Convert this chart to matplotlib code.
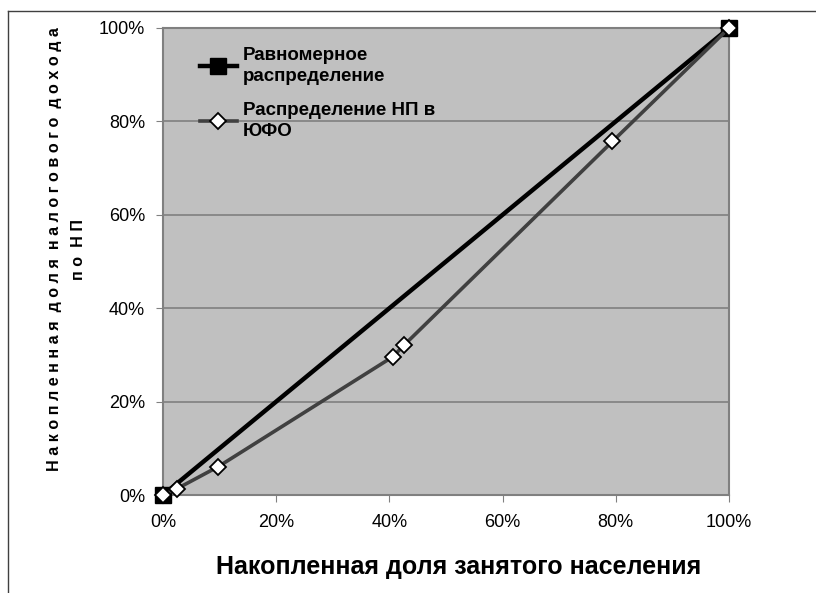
import matplotlib
matplotlib.use("Agg")
import matplotlib.pyplot as plt
from matplotlib.lines import Line2D
from matplotlib.ticker import PercentFormatter, MultipleLocator

# Data
uniform_x = [0, 100]
uniform_y = [0, 100]
dist_x = [0, 2.4, 9.8, 40.6, 42.6, 79.4, 100]
dist_y = [0, 1.3, 6.1, 29.6, 32.1, 75.7, 100]
series_names = ["Равномерное\nраспределение", "Распределение НП в\nЮФО"]
xlabel = "Накопленная доля занятого населения"
ylabel_lines = ["Накопленная доля налогового дохода", "по НП"]

plt.rcParams['font.family'] = ['Liberation Sans', 'DejaVu Sans']

fig = plt.figure(figsize=(8.16, 5.93), dpi=100)
ax = fig.add_axes([163/816, 1-495/593, (729-163)/816, (495-28)/593])
ax.set_facecolor('#c0c0c0')

ax.plot(uniform_x, uniform_y, color='black', lw=3.2, marker='s', markersize=12,
        markerfacecolor='black', markeredgecolor='black', clip_on=False, zorder=3,
        label=series_names[0])
ax.plot(dist_x, dist_y, color='#404040', lw=2.6, marker='D', markersize=8.5,
        markerfacecolor='white', markeredgecolor='black', markeredgewidth=1.3,
        clip_on=False, zorder=4, label=series_names[1])

ax.set_xlim(0, 100)
ax.set_ylim(0, 100)
ax.xaxis.set_major_locator(MultipleLocator(20))
ax.yaxis.set_major_locator(MultipleLocator(20))
ax.xaxis.set_major_formatter(PercentFormatter(decimals=0))
ax.yaxis.set_major_formatter(PercentFormatter(decimals=0))
ax.grid(axis='y', color='#808080', lw=1.2)
ax.set_axisbelow(True)
for s in ax.spines.values():
    s.set_color('#808080')
    s.set_linewidth(1.5)
ax.tick_params(axis='both', direction='out', length=5, color='#808080',
               labelsize=13, labelcolor='black')
ax.tick_params(axis='x', pad=9)
ax.tick_params(axis='y', pad=8)

ax.set_xlabel(xlabel, fontsize=18, fontweight='bold', labelpad=17)
ax.xaxis.label.set_x(0.522)

ylabel = "\n".join("  ".join(" ".join(w) for w in l.split(" ")) for l in ylabel_lines)
ax.set_ylabel(ylabel, fontsize=11.6, fontweight='bold', labelpad=9, linespacing=1.8)
ax.yaxis.label.set_y(0.526)

leg = ax.legend(loc='upper left', bbox_to_anchor=(0.035, 0.995), frameon=False,
                prop={'weight': 'bold', 'size': 13.5},
                handlelength=2.0, handletextpad=0.3, labelspacing=0.9)
for t in leg.get_texts():
    t.set_linespacing(1.3)

# Figure border lines
fig.add_artist(Line2D([8/816, 1], [1-11/593, 1-11/593], color='#404040', lw=1,
                      transform=fig.transFigure))
fig.add_artist(Line2D([8/816, 8/816], [0, 1-11/593], color='#404040', lw=1,
                      transform=fig.transFigure))

fig.savefig("out.png", dpi=100)
